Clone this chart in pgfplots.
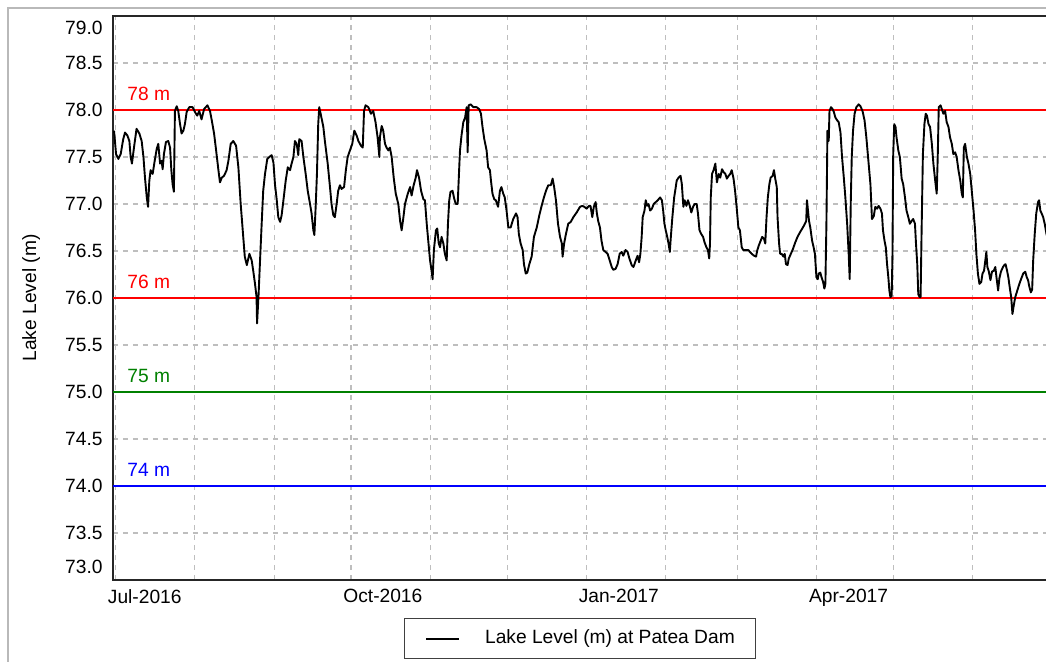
\documentclass[border=0pt]{standalone}
\usepackage{fontspec}
\setmainfont{Liberation Sans}
\usepackage{pgfplots}
\pgfplotsset{compat=1.18}
\definecolor{refgreen}{RGB}{0,128,0}
\definecolor{refblue}{RGB}{0,0,255}
\definecolor{refred}{RGB}{255,0,0}
\definecolor{gridgray}{RGB}{190,190,190}
\begin{document}
\begin{tikzpicture}[font=\fontsize{9.6pt}{11.5pt}\selectfont]
\useasboundingbox (0,0) rectangle (523pt,331pt);
\draw[gray!55, line width=0.8pt] (4pt,-5pt) -- (4pt,327pt) -- (540pt,327pt);
\begin{axis}[
  at={(56.5pt,41pt)}, anchor=south west,
  scale only axis, width=467pt, height=282pt,
  xmin=0, xmax=365, ymin=73, ymax=79,
  axis line style={black!85, line width=0.8pt},
  grid=major,
  major grid style={gridgray, dash pattern=on 2.5pt off 2.5pt, line width=0.55pt},
  major tick length=0pt,
  xtick={1,32,63,93,124,154,185,216,244,275,305,336},
  xticklabels={Jul-2016,,,Oct-2016,,,Jan-2017,,,Apr-2017,,},
  xticklabel style={anchor=north west, inner sep=0pt, xshift=-4pt, yshift=-4.5pt},
  ytick={73,73.5,74,74.5,75,75.5,76,76.5,77,77.5,78,78.5,79},
  yticklabels={{\raisebox{6.5pt}[\height][\depth]{73.0}},73.5,74.0,74.5,75.0,75.5,76.0,76.5,77.0,77.5,78.0,78.5,{\raisebox{-6pt}[\height][\depth]{79.0}}},
  yticklabel style={anchor=east, inner sep=0pt, xshift=-5pt},
  ylabel={Lake Level (m)},
  ylabel style={at={(axis description cs:-0.0875,0.5)}, anchor=center, inner sep=0pt},
  legend style={at={(0.5,-0.0674)}, anchor=north, draw=black!75, line width=0.6pt, fill=white,
    inner xsep=10.5pt, inner ysep=5.2pt, column sep=12.5pt,
    nodes={inner sep=0pt, text height=7.3pt, text depth=2.3pt}},
  legend cell align=left,
  legend image code/.code={\draw[#1] (0pt,0pt) -- (16.5pt,0pt);},
]
\addplot[refred, line width=0.8pt, forget plot] coordinates {(0,78) (365,78)};
\addplot[refred, line width=0.8pt, forget plot] coordinates {(0,76) (365,76)};
\addplot[refgreen, line width=0.8pt, forget plot] coordinates {(0,75) (365,75)};
\addplot[refblue, line width=0.8pt, forget plot] coordinates {(0,74) (365,74)};
\node[anchor=base west, inner sep=0pt, text=refred] at (axis cs:5.47,78.096) {78 m};
\node[anchor=base west, inner sep=0pt, text=refred] at (axis cs:5.47,76.096) {76 m};
\node[anchor=base west, inner sep=0pt, text=refgreen] at (axis cs:5.47,75.096) {75 m};
\node[anchor=base west, inner sep=0pt, text=refblue] at (axis cs:5.47,74.096) {74 m};
\addplot[black, line width=0.95pt, line join=round] coordinates {
(0.4,77.78)(1.2,77.53)(2.1,77.48)(3,77.53)(4,77.69)(4.7,77.76)(5.6,77.73)(6.4,77.67)(6.9,77.5)(7.4,77.43)(8.2,77.6)(9.2,77.8)(10.3,77.75)(11.2,77.67)(11.9,77.5)(12.5,77.28)(13.2,77.07)(13.7,76.97)(14.2,77.25)(14.7,77.36)(15.5,77.32)(16.3,77.46)(17.1,77.59)(17.7,77.64)(18.4,77.43)(19,77.46)(19.4,77.37)(19.9,77.53)(20.7,77.66)(21.6,77.67)(22.3,77.6)(22.8,77.36)(23.3,77.21)(23.8,77.13)(24.2,77.99)(24.9,78.04)(25.5,77.99)(26.2,77.85)(26.8,77.75)(27.5,77.78)(28.1,77.85)(28.8,77.98)(29.8,78.03)(31.1,78.03)(32,77.98)(32.9,77.94)(33.7,77.99)(34.6,77.9)(35.6,78.01)(36.9,78.05)(37.9,77.99)(38.6,77.89)(39.5,77.75)(40.3,77.57)(41.2,77.36)(41.8,77.23)(42.5,77.28)(43.4,77.3)(44.4,77.36)(45.1,77.46)(46,77.64)(47,77.67)(48.1,77.62)(49,77.39)(49.9,77.0)(50.7,76.72)(51.5,76.44)(52.3,76.35)(53.3,76.47)(54.2,76.4)(54.8,76.29)(55.5,76.15)(56.1,76.01)(56.3,75.73)(56.9,76.04)(57.4,76.36)(58.1,76.79)(58.7,77.14)(59.4,77.32)(60.3,77.48)(61.1,77.5)
(62,77.52)(62.7,77.44)(63.3,77.21)(64,77.04)(64.6,76.86)(65.3,76.81)(65.9,76.88)(66.6,77.04)(67.5,77.25)(68.3,77.39)(69.2,77.36)(69.8,77.43)(70.5,77.5)(71.1,77.67)(71.8,77.64)(72.4,77.52)(72.8,77.69)(73.7,77.67)(74.4,77.5)(75.3,77.32)(76.1,77.14)(77,77.0)(77.6,76.9)(78.3,76.72)(78.7,76.67)(79.2,76.97)(79.7,77.32)(80.2,77.85)(80.6,78.03)(81.3,77.94)(82.2,77.82)(82.8,77.67)(83.9,77.43)(84.8,77.18)(85.4,77.0)(86.1,76.88)(86.7,76.86)(87.4,77.0)(88,77.14)(88.7,77.2)(89.3,77.16)(90.3,77.18)(91,77.36)(91.7,77.5)(92.6,77.57)(93.5,77.64)(94.3,77.78)(95.2,77.73)(95.9,77.67)(96.9,77.62)(97.6,77.6)(98.1,77.99)(98.7,78.05)(99.8,78.03)(100.8,77.96)(101.7,77.99)(102.6,77.87)(103.4,77.71)(104.1,77.5)(104.3,77.71)(105,77.83)(105.6,77.78)(106.3,77.64)(106.9,77.6)(107.6,77.57)(108.2,77.6)(108.9,77.5)(109.7,77.28)(110.5,77.11)(111.5,77.0)(112.2,76.82)(112.8,76.72)(113.5,76.86)(114.1,77.0)(115.2,77.11)(116.1,77.18)(116.7,77.09)(117.5,77.2)(118.3,77.28)(118.8,77.36)(119.6,77.28)(120.4,77.14)(121.3,77.05)
(121.9,77.04)(122.6,76.79)(123.2,76.61)(123.9,76.4)(124.5,76.29)(124.9,76.2)(125.4,76.51)(126.2,76.72)(126.7,76.74)(127.3,76.58)(127.8,76.54)(128.4,76.65)(129.1,76.58)(129.7,76.47)(130.4,76.4)(130.9,76.79)(131.4,77.04)(131.9,77.13)(132.7,77.14)(133.4,77.05)(134,77.0)(134.7,77.0)(135.2,77.32)(135.6,77.57)(136.2,77.73)(136.9,77.87)(137.6,77.92)(138.2,78.03)(138.6,77.55)(139,78.05)(139.8,78.06)(140.8,78.03)(142.1,78.03)(143.1,78.01)(143.8,77.96)(144.4,77.82)(145.1,77.69)(146,77.57)(146.6,77.39)(147.3,77.36)(147.7,77.25)(148.3,77.11)(149,77.05)(149.6,77.04)(150.5,76.97)(151.2,77.14)(151.8,77.18)(152.5,77.11)(153.1,77.07)(153.8,76.93)(154.5,76.75)(155.4,76.75)(156.4,76.84)(157.5,76.9)(158.1,76.86)(158.6,76.68)(159.3,76.58)(160.1,76.51)(160.6,76.36)(161.3,76.26)(161.9,76.27)(162.7,76.36)(163.6,76.44)(164.5,76.65)(165.6,76.75)(166.6,76.88)(167.5,76.98)(168.4,77.07)(169.2,77.14)(170.1,77.2)(171.1,77.2)(171.8,77.27)(172.4,77.18)(173.1,77.04)(173.9,76.79)(174.7,76.65)(175.4,76.58)(175.7,76.44)(176.3,76.58)(177,76.68)(177.9,76.79)(178.9,76.81)(179.9,76.86)(181.2,76.91)
(182.5,76.97)(183.4,76.98)(184.2,76.97)(185.1,76.95)(186,76.98)(186.6,76.98)(187.3,76.86)(187.9,76.97)(188.6,77.02)(189.1,76.9)(189.6,76.82)(190.3,76.75)(190.9,76.61)(191.6,76.51)(192.5,76.49)(193.3,76.47)(194.1,76.4)(194.9,76.33)(195.5,76.3)(196.4,76.31)(197.2,76.36)(198,76.47)(198.8,76.49)(199.4,76.45)(200.3,76.51)(201.1,76.49)(201.8,76.42)(202.7,76.35)(203.4,76.33)(204.3,76.4)(205,76.45)(205.6,76.38)(206.1,76.47)(206.6,76.65)(207,76.86)(207.7,76.93)(208.2,77.04)(208.7,76.98)(209.3,77.0)(209.9,76.93)(210.6,76.95)(211.3,77.0)(212.1,77.02)(212.9,77.04)(213.8,77.07)(214.5,77.04)(215,76.93)(215.5,76.79)(216,76.72)(216.6,76.65)(217.1,76.58)(217.6,76.49)(218,76.65)(218.6,76.86)(219.3,77.07)(219.7,77.14)(220.3,77.25)(221,77.28)(221.8,77.3)(222.3,77.21)(222.9,76.97)(223.4,77.04)(224.1,76.98)(224.7,77.04)(225.4,76.98)(226,76.91)(226.7,76.97)(227.3,77.0)(228.1,77.0)(228.6,76.9)(229.2,76.72)(229.9,76.68)(230.6,76.65)(231.2,76.59)(231.9,76.54)(232.5,76.51)(233,76.42)(233.3,76.58)(233.6,77.07)(234.1,77.32)(234.7,77.36)(235.4,77.43)(236,77.23)(236.7,77.32)(237.3,77.28)(238,77.37)(238.6,77.34)(239.3,77.32)(239.9,77.27)(240.6,77.3)(241.2,77.32)(241.8,77.36)(242.5,77.27)(243.1,77.14)
(243.7,76.97)(244.4,76.75)(245,76.72)(245.7,76.54)(246.3,76.51)(247.3,76.51)(248.3,76.51)(248.9,76.49)(249.6,76.47)(250.5,76.45)(251.3,76.44)(251.8,76.51)(252.4,76.56)(253.1,76.61)(253.7,76.65)(254.4,76.63)(254.9,76.58)(255.4,76.86)(255.9,77.07)(256.5,77.21)(257,77.28)(257.8,77.3)(258.3,77.36)(258.8,77.27)(259.4,77.18)(259.7,76.86)(260.3,76.58)(260.7,76.47)(261.3,76.47)(262,76.44)(262.5,76.47)(263,76.36)(263.6,76.35)(264.1,76.42)(264.9,76.47)(265.7,76.52)(266.6,76.59)(267.5,76.65)(268.5,76.7)(269.6,76.75)(270.4,76.79)(270.9,76.82)(271.2,77.04)(271.6,76.93)(272,76.82)(272.5,76.75)(273.2,76.61)(273.8,76.54)(274.3,76.47)(274.9,76.22)(275.4,76.2)(275.8,76.26)(276.4,76.27)(276.9,76.22)(277.5,76.17)(278,76.1)(278.4,76.15)(278.8,76.79)(279.2,77.78)(279.7,77.67)(280,77.99)(280.6,78.03)(281.2,78.01)(281.7,77.98)(282.3,77.92)(283,77.89)(283.6,77.87)(284.3,77.76)(284.9,77.5)(285.6,77.28)(286.2,77.07)(286.9,76.79)(287.5,76.47)(287.9,76.2)(288.3,77.0)(288.7,77.5)(289.2,77.78)(289.8,77.96)(290.5,78.03)(291.4,78.06)(292.1,78.04)(292.9,77.99)(293.7,77.89)(294.4,77.71)(295.2,77.46)(296,77.21)(296.6,76.84)(297.3,76.87)(297.9,76.97)(298.6,76.95)(299.2,76.98)(299.9,76.95)(300.5,76.9)(300.9,76.72)(301.5,76.61)(302,76.54)(302.5,76.36)(303,76.22)(303.4,76.08)(303.8,76.01)
(304.3,76.02)(304.6,76.44)(304.9,77.53)(305.3,77.85)(305.8,77.82)(306.2,77.71)(306.9,77.57)(307.5,77.5)(308.2,77.27)(308.8,77.21)(309.5,77.07)(310.1,76.93)(310.8,76.86)(311.4,76.79)(312.1,76.82)(312.7,76.84)(313.4,76.79)(313.8,76.58)(314.3,76.36)(314.7,76.04)(315.2,76.01)(315.6,76.01)(316,76.72)(316.5,77.53)(317.1,77.85)(317.6,77.96)(318.1,77.94)(318.7,77.85)(319.3,77.82)(320,77.64)(320.6,77.43)(321.3,77.25)(321.9,77.11)(322.3,77.5)(322.7,78.03)(323.4,78.05)(323.9,78.01)(324.5,77.96)(325.2,77.99)(325.8,77.87)(326.5,77.82)(327.1,77.71)(327.8,77.64)(328.4,77.53)(329.1,77.55)(329.7,77.5)(330.4,77.36)(331.1,77.25)(331.7,77.11)(332.1,77.07)(332.5,77.6)(333,77.64)(333.7,77.5)(334.3,77.43)(335,77.32)(335.6,77.14)(336.3,76.93)(336.9,76.72)(337.4,76.47)(338,76.26)(338.6,76.15)(339.3,76.17)(339.8,76.26)(340.4,76.29)(340.9,76.4)(341.3,76.49)(341.7,76.33)(342.2,76.29)(342.9,76.19)(343.5,76.28)(344.2,76.29)(344.8,76.33)(345.3,76.21)(345.9,76.08)(346.4,76.21)(347,76.28)(347.8,76.33)(348.3,76.35)(348.8,76.36)(349.4,76.29)(349.9,76.22)(350.4,76.12)(351,76.01)(351.5,75.83)(352,75.92)(352.6,76.01)(353.4,76.08)(354.2,76.15)(355,76.21)(355.7,76.26)(356.5,76.28)(357.1,76.22)(357.6,76.19)(358.1,76.12)(358.7,76.06)(359.2,76.09)(359.6,76.4)(360.2,76.68)(360.8,76.9)(361.5,77.02)(361.9,77.04)(362.4,76.93)(362.9,76.9)(363.5,76.86)(364.1,76.79)(364.8,76.68)(365,76.66)
};
\addlegendentry{Lake Level (m) at Patea Dam}
\end{axis}
\end{tikzpicture}
\end{document}
